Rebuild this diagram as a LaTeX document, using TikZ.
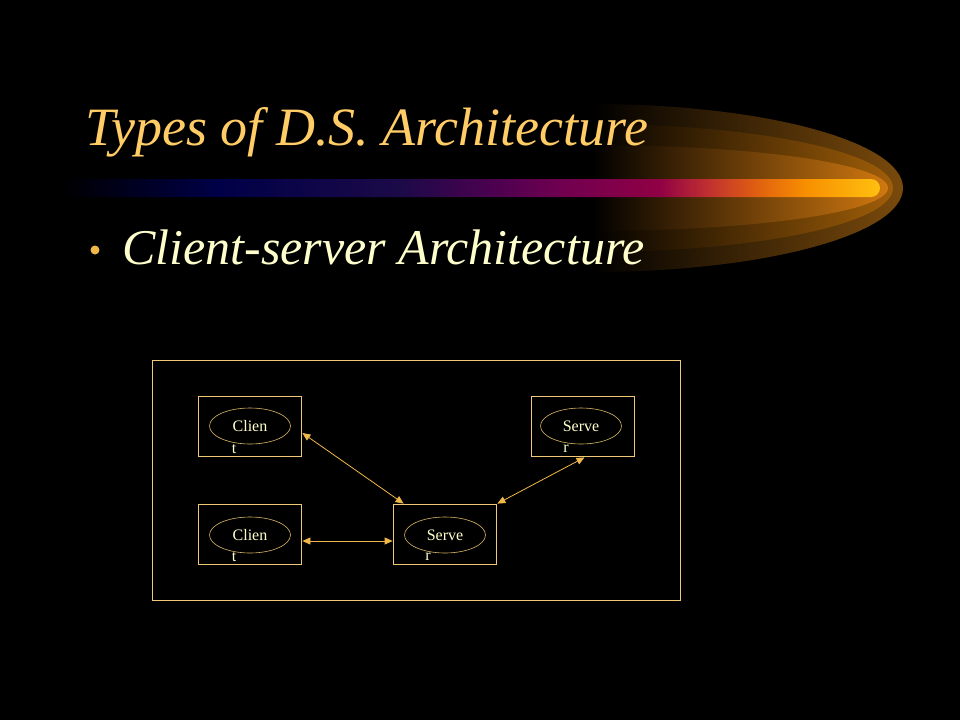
\documentclass[tikz,border=0pt]{standalone}
\usepackage{fontspec}
\setmainfont{Liberation Serif}
\usetikzlibrary{shapes.geometric,arrows.meta}
\definecolor{gold}{HTML}{F0C878}
\definecolor{ellcol}{HTML}{D8B868}
\definecolor{arrcol}{HTML}{F0B848}
\definecolor{titlecol}{HTML}{FFCC66}
\definecolor{subcol}{HTML}{FFFFCC}
\definecolor{glowA}{HTML}{7A4A0C}
\definecolor{glowB}{HTML}{A05E08}
\definecolor{glowC}{HTML}{D07810}
\definecolor{bA}{HTML}{000048}
\definecolor{bB}{HTML}{1C0A48}
\definecolor{bC}{HTML}{500050}
\definecolor{bD}{HTML}{700050}
\definecolor{bE}{HTML}{900045}
\definecolor{bF}{HTML}{C03030}
\definecolor{bG}{HTML}{E06010}
\definecolor{bH}{HTML}{F89000}
\definecolor{bI}{HTML}{FFC010}
\pgfdeclarehorizontalshading{barshade}{100bp}{color(0bp)=(black); color(25bp)=(black); color(34.75bp)=(bA); color(45.75bp)=(bB); color(51.85bp)=(bC); color(55.5bp)=(bD); color(61.5bp)=(bE); color(64.5bp)=(bF); color(67.5bp)=(bG); color(70.5bp)=(bH); color(75bp)=(bI); color(100bp)=(bI)}
\tikzset{
  boxnode/.style={draw=gold, line width=0.8pt, minimum width=103pt, minimum height=60pt, inner sep=0pt},
  ellnode/.style={ellipse, draw=ellcol, line width=0.6pt, minimum width=81pt, minimum height=36pt, inner sep=0pt, text=subcol, font=\fontsize{16}{18}\selectfont},
  lbl/.style={text=subcol, font=\fontsize{16}{18}\selectfont, inner sep=0pt},
  conn/.style={draw=arrcol, line width=0.8pt, {Triangle[length=8pt,width=7pt]}-{Triangle[length=8pt,width=7pt]}}
}
\begin{document}
\begin{tikzpicture}[x=1pt,y=-1pt]
\fill[black] (0,0) rectangle (960,720);
\useasboundingbox (0,0) rectangle (960,720);
% glow
\shade[left color=black, right color=glowA] (592,104) arc[start angle=-90, end angle=90, x radius=311, y radius=84] -- cycle;
\shade[left color=black, right color=glowB] (592,124) arc[start angle=-90, end angle=90, x radius=301, y radius=64] -- cycle;
\shade[left color=black, right color=glowC] (592,145) arc[start angle=-90, end angle=90, x radius=296, y radius=43] -- cycle;
% bar
\shade[shading=barshade, rounded corners=9pt] (60,179) rectangle (880,197);
% title
\node[anchor=base west, font=\fontsize{54}{60}\selectfont\itshape, text=titlecol, inner sep=0pt] (title) at (85,145) {Types of D.S. Architecture};
\fill[arrcol] (95,250) circle (4.5);
\node[anchor=base west, font=\fontsize{50}{56}\selectfont\itshape, text=subcol, inner sep=0pt] (sub) at (122,264) {Client-server Architecture};
% diagram
\node[draw=gold, line width=0.8pt, minimum width=528pt, minimum height=240pt, inner sep=0pt] (frame) at (416,480) {};
\node[boxnode] (c1) at (249.5,426) {};
\node[boxnode] (c2) at (249.5,534) {};
\node[boxnode] (sm) at (444.5,534) {};
\node[boxnode] (st) at (582.5,426) {};
\node[ellnode] (c1e) at (250,426) {Clien};
\node[ellnode] (c2e) at (250,535) {Clien};
\node[ellnode] (sme) at (445,535) {Serve};
\node[ellnode] (ste) at (581,426) {Serve};
\node[lbl] (c1t) at (234,449) {t};
\node[lbl] (c2t) at (234,557) {t};
\node[lbl] (smr) at (428,557) {r};
\node[lbl] (str) at (566,449) {r};
\draw[conn] ([shift={(1,7)}]c1.east) -- ([shift={(11,0)}]sm.north west);
\draw[conn] ([shift={(1,7)}]c2.east) -- ([shift={(0,7)}]sm.west);
\draw[conn] ([shift={(2,1)}]st.south) -- ([shift={(1,0)}]sm.north east);
\end{tikzpicture}
\end{document}
